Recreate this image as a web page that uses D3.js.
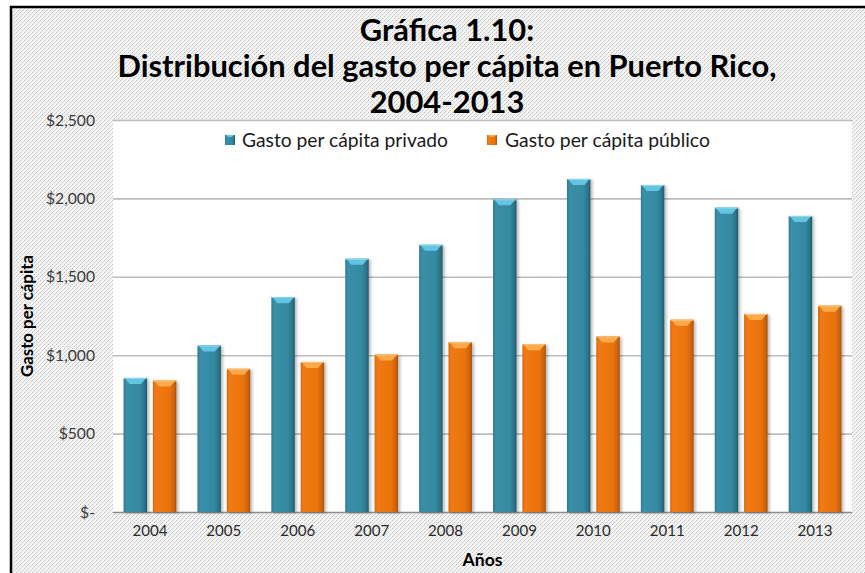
<!DOCTYPE html>
<html lang="es">
<head>
<meta charset="utf-8">
<title>Gráfica 1.10</title>
<script src="https://cdn.jsdelivr.net/npm/d3@7/dist/d3.min.js"></script>
<style>
  html, body { margin: 0; padding: 0; background: #fff; }
  svg { display: block; }
  text { font-family: Lato, "Open Sans", "Liberation Sans", sans-serif; }
</style>
</head>
<body>
<svg id="chart" width="865" height="573"></svg>
<script>
// Años y gasto per cápita (dólares)
const years = ["2004", "2005", "2006", "2007", "2008", "2009", "2010", "2011", "2012", "2013"];
const privado = [855, 1062, 1370, 1615, 1704, 1994, 2124, 2085, 1941, 1888];
const publico = [838, 913, 957, 1004, 1083, 1070, 1120, 1226, 1263, 1316];
const seriesNames = ["Gasto per cápita privado", "Gasto per cápita público"];
const yTicks = [0, 500, 1000, 1500, 2000, 2500];
const titleLines = ["Gráfica 1.10:", "Distribución del gasto per cápita en Puerto Rico,", "2004-2013"];

const W = 865, H = 573;
const plot = { left: 113, right: 852, top: 120, bottom: 512 };

const svg = d3.select("#chart");
const defs = svg.append("defs");

// Fondo punteado del área del gráfico
const pat = defs.append("pattern").attr("id", "dots")
  .attr("width", 4).attr("height", 4).attr("patternUnits", "userSpaceOnUse");
pat.append("rect").attr("width", 4).attr("height", 4).attr("fill", "#f4f4f4");
pat.append("rect").attr("x", 0).attr("y", 0).attr("width", 1).attr("height", 1).attr("fill", "#c4c4c4");
pat.append("rect").attr("x", 2).attr("y", 2).attr("width", 1).attr("height", 1).attr("fill", "#c4c4c4");
pat.append("rect").attr("x", 1).attr("y", 3).attr("width", 1).attr("height", 1).attr("fill", "#dcdcdc");
pat.append("rect").attr("x", 3).attr("y", 1).attr("width", 1).attr("height", 1).attr("fill", "#dcdcdc");

// Degradados de las barras
function barGradient(id, stops) {
  const g = defs.append("linearGradient").attr("id", id)
    .attr("x1", "0%").attr("x2", "100%").attr("y1", "0%").attr("y2", "0%");
  stops.forEach(([o, c]) => g.append("stop").attr("offset", o).attr("stop-color", c));
}
barGradient("gBlue", [["0%", "#2c7a90"], ["12%", "#3a8fa8"], ["70%", "#348aa2"], ["90%", "#2b7489"], ["100%", "#21596a"]]);
barGradient("gOrange", [["0%", "#d8690c"], ["12%", "#f17a13"], ["70%", "#ea730f"], ["90%", "#cf640c"], ["100%", "#a3500a"]]);

const shadow = defs.append("filter").attr("id", "shadow")
  .attr("x", "-30%").attr("y", "-10%").attr("width", "160%").attr("height", "120%");
shadow.append("feDropShadow").attr("dx", 2).attr("dy", 1).attr("stdDeviation", 1.5)
  .attr("flood-color", "#000").attr("flood-opacity", 0.28);

// Fondo y borde
svg.append("rect").attr("x", 10).attr("y", 6).attr("width", W - 10).attr("height", H - 6)
  .attr("fill", "url(#dots)");
svg.append("path").attr("d", `M11,${H} L11,7 L${W},7`)
  .attr("fill", "none").attr("stroke", "#000").attr("stroke-width", 2.5);

// Ajusta el tamaño de letra para que el texto ocupe el ancho indicado
function fitWidth(sel, target) {
  sel.each(function () {
    const base = parseFloat(this.getAttribute("font-size"));
    const w = this.getComputedTextLength();
    if (w > 0) this.setAttribute("font-size", (base * target / w).toFixed(2));
  });
}

// Escalas
const x0 = d3.scaleBand().domain(years).range([plot.left, plot.right]).paddingInner(0).paddingOuter(0);
const x1 = d3.scaleBand().domain([0, 1]).range([0, x0.bandwidth()]).paddingInner(0.2).paddingOuter(0.36);
const y = d3.scaleLinear().domain([0, 2500]).range([plot.bottom, plot.top]);

// Área de trazado
svg.append("rect").attr("x", plot.left).attr("y", plot.top)
  .attr("width", plot.right - plot.left).attr("height", plot.bottom - plot.top).attr("fill", "#fff");

// Líneas de cuadrícula y eje vertical
const yAxis = d3.axisLeft(y).tickValues(yTicks)
  .tickSize(-(plot.right - plot.left)).tickPadding(18)
  .tickFormat(d => d === 0 ? "$-" : "$" + d3.format(",")(d));
const gy = svg.append("g").attr("transform", `translate(${plot.left},0)`).call(yAxis);
gy.select(".domain").remove();
gy.selectAll(".tick line").attr("stroke", "#bdbdbd").attr("stroke-width", 1.6)
  .filter(d => d === 0).attr("stroke", "#8c8c8c").attr("stroke-width", 1.4);
gy.selectAll(".tick text").attr("font-size", 16).attr("fill", "#3a3a3a")
  .attr("font-family", "Lato, 'Open Sans', sans-serif");
fitWidth(gy.selectAll(".tick text").filter(d => d === 2500), 49);
const tickFs = gy.selectAll(".tick text").filter(d => d === 2500).attr("font-size");
gy.selectAll(".tick text").attr("font-size", tickFs);

// Eje de años
const xAxis = d3.axisBottom(x0).tickSize(0).tickPadding(13);
const gx = svg.append("g").attr("transform", `translate(0,${plot.bottom})`).call(xAxis);
gx.select(".domain").remove();
gx.selectAll(".tick text").attr("font-size", 16).attr("fill", "#2a2a2a")
  .attr("font-family", "Lato, 'Open Sans', sans-serif");
fitWidth(gx.selectAll(".tick text").filter((d, i) => i === 0), 35);
const yearFs = gx.selectAll(".tick text").filter((d, i) => i === 0).attr("font-size");
gx.selectAll(".tick text").attr("font-size", yearFs);

// Barras
const fills = ["url(#gBlue)", "url(#gOrange)"];
const caps = ["#63c5e1", "#fca94a"];
const capEdge = ["#8fd8ec", "#fdc27a"];
const rows = years.map((yr, i) => ({ yr, vals: [privado[i], publico[i]] }));

const groups = svg.append("g").selectAll("g").data(rows).join("g")
  .attr("transform", d => `translate(${x0(d.yr)},0)`);

const bars = groups.selectAll("g.bar").data(d => d.vals.map((v, k) => ({ v, k }))).join("g")
  .attr("class", "bar");

bars.append("rect")
  .attr("x", d => x1(d.k)).attr("y", d => y(d.v))
  .attr("width", x1.bandwidth()).attr("height", d => y(0) - y(d.v))
  .attr("fill", d => fills[d.k]).attr("filter", "url(#shadow)");

// Bisel superior
const bev = 6;
bars.append("path")
  .attr("d", d => {
    const xa = x1(d.k), xb = xa + x1.bandwidth(), yt = y(d.v);
    return `M${xa + 1},${yt} L${xb - 1},${yt} L${xb - bev},${yt + bev} L${xa + bev},${yt + bev} Z`;
  })
  .attr("fill", d => caps[d.k]);
bars.append("line")
  .attr("x1", d => x1(d.k) + 0.5).attr("x2", d => x1(d.k) + x1.bandwidth() - 0.5)
  .attr("y1", d => y(d.v) + 0.5).attr("y2", d => y(d.v) + 0.5)
  .attr("stroke", d => capEdge[d.k]).attr("stroke-width", 1);

// Leyenda
const legend = svg.append("g");
const legendItems = [
  { name: seriesNames[0], sx: 225, tx: 242, w: 206, k: 0 },
  { name: seriesNames[1], sx: 487, tx: 505, w: 205, k: 1 }
];
const legendY = 140;
legendItems.forEach(it => {
  legend.append("rect").attr("x", it.sx).attr("y", legendY - 5).attr("width", 10).attr("height", 10)
    .attr("fill", fills[it.k]);
  legend.append("path")
    .attr("d", `M${it.sx + 1},${legendY - 5} L${it.sx + 9},${legendY - 5} L${it.sx + 7},${legendY - 3} L${it.sx + 3},${legendY - 3} Z`)
    .attr("fill", caps[it.k]);
  const t = legend.append("text").attr("x", it.tx).attr("y", legendY)
    .attr("dy", "0.35em").attr("font-size", 18).attr("fill", "#1a1a1a").text(it.name);
  fitWidth(t, it.w);
});

// Título
const titleX = 447;
const titleBase = [41, 77, 113];
const tt = svg.append("g").selectAll("text").data(titleLines).join("text")
  .attr("x", titleX).attr("y", (d, i) => titleBase[i])
  .attr("text-anchor", "middle").attr("font-weight", 700).attr("font-size", 25)
  .attr("fill", "#000").text(d => d);
fitWidth(tt.filter((d, i) => i === 1), 659);
const titleFs = tt.filter((d, i) => i === 1).attr("font-size");
tt.attr("font-size", titleFs);

// Títulos de los ejes
const yl = svg.append("text")
  .attr("transform", `translate(33,${(plot.top + plot.bottom) / 2}) rotate(-90)`)
  .attr("text-anchor", "middle").attr("font-weight", 700).attr("font-size", 16)
  .attr("fill", "#000").text("Gasto per cápita");
fitWidth(yl, 122);

const xl = svg.append("text")
  .attr("x", (plot.left + plot.right) / 2).attr("y", 566)
  .attr("text-anchor", "middle").attr("font-weight", 700).attr("font-size", 17)
  .attr("fill", "#000").text("Años");
fitWidth(xl, 40);
</script>
</body>
</html>
